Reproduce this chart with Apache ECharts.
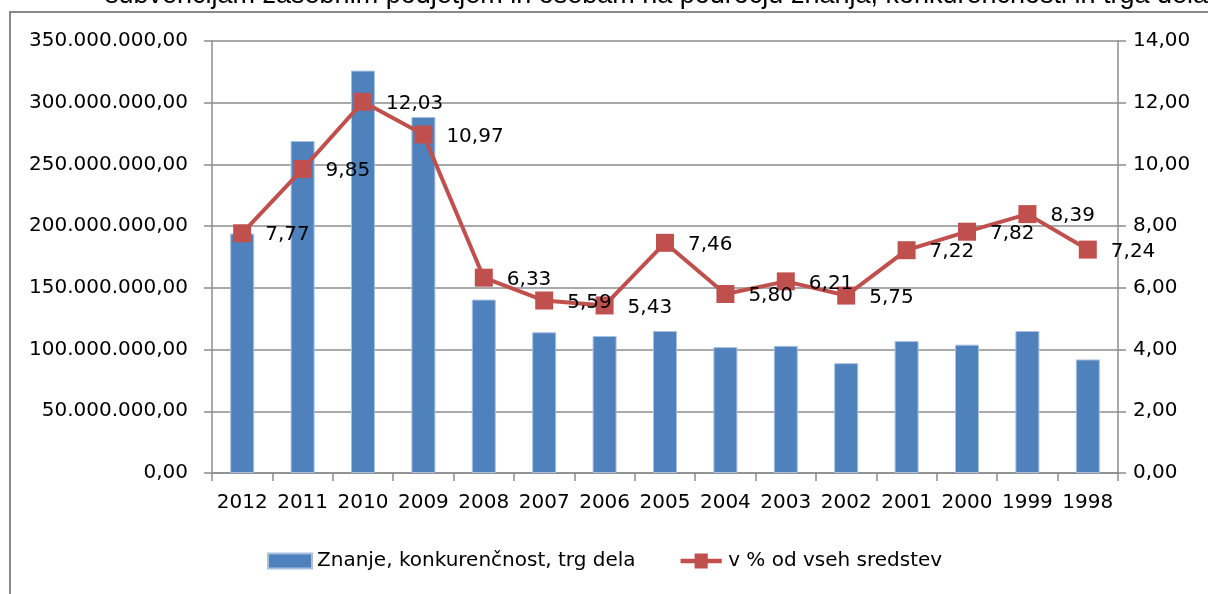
<!DOCTYPE html>
<html>
<head>
<meta charset="utf-8">
<script src="https://cdn.jsdelivr.net/npm/echarts@6/dist/echarts.min.js"></script>
<style>
  html, body { margin: 0; padding: 0; background: #fff; }
  #chart { width: 1208px; height: 594px; }
</style>
</head>
<body>
<div id="chart"></div>
<script>
// podatki
const years = ['2012', '2011', '2010', '2009', '2008', '2007', '2006', '2005', '2004', '2003', '2002', '2001', '2000', '1999', '1998'];
const amounts = [194000000, 269000000, 326000000, 288500000, 140500000, 114000000, 111000000, 115000000, 102000000, 103000000, 89000000, 107000000, 104000000, 115000000, 92000000];
const shares = [7.77, 9.85, 12.03, 10.97, 6.33, 5.59, 5.43, 7.46, 5.80, 6.21, 5.75, 7.22, 7.82, 8.39, 7.24];
const barName = 'Znanje, konkurenčnost, trg dela';
const lineName = 'v % od vseh sredstev';
const titleText = 'subvencijam zasebnim podjetjem in osebam na področju znanja, konkurenčnosti in trga dela';

const font = 'DejaVu Sans';
const gridColor = '#8c8c8c';

// 350000000 -> 350.000.000,00
function fmtSl(v, dec) {
  const parts = v.toFixed(dec).split('.');
  parts[0] = parts[0].replace(/\B(?=(\d{3})+(?!\d))/g, '.');
  return parts.join(',');
}

const chart = echarts.init(document.getElementById('chart'));

const option = {
  animation: false,
  backgroundColor: '#fff',
  graphic: [
    {
      type: 'text',
      left: 105,
      top: -18,
      style: { text: titleText, font: '27px "Liberation Sans"', fill: '#000' }
    },
    {
      type: 'rect',
      shape: { x: 10, y: 12, width: 1400, height: 800 },
      style: { fill: 'none', stroke: '#898989', lineWidth: 2 },
      z: 10
    }
  ],
  grid: { left: 212, right: 90, top: 41, bottom: 121 },
  legend: {
    bottom: 18,
    left: 262,
    itemWidth: 44,
    itemHeight: 15,
    itemGap: 45,
    textStyle: { fontFamily: font, fontSize: 20, color: '#000' },
    data: [
      { name: barName, icon: 'rect' },
      {
        name: lineName,
        // debela črta s kvadratkom kot v izvirniku
        icon: 'path://M0,5.5L15,5.5L15,0L29,0L29,5.5L44,5.5L44,10.5L29,10.5L29,16L15,16L15,10.5L0,10.5Z',
        itemStyle: { color: '#c0504d' }
      }
    ]
  },
  xAxis: {
    type: 'category',
    data: years,
    axisLine: { lineStyle: { color: gridColor, width: 1.5 } },
    axisTick: { show: true, length: 8, lineStyle: { color: gridColor, width: 1.5 } },
    axisLabel: { color: '#000', fontFamily: font, fontSize: 20, margin: 20, interval: 0 }
  },
  yAxis: [
    {
      type: 'value',
      min: 0,
      max: 350000000,
      interval: 50000000,
      axisLine: { show: true, lineStyle: { color: gridColor, width: 1.5 } },
      axisTick: { show: true, length: 8, lineStyle: { color: gridColor, width: 1.5 } },
      splitLine: { lineStyle: { color: gridColor, width: 1.5 } },
      axisLabel: { color: '#000', fontFamily: font, fontSize: 20, margin: 24, formatter: v => fmtSl(v, 2) }
    },
    {
      type: 'value',
      min: 0,
      max: 14,
      interval: 2,
      axisLine: { show: true, lineStyle: { color: gridColor, width: 1.5 } },
      axisTick: { show: true, length: 8, lineStyle: { color: gridColor, width: 1.5 } },
      splitLine: { show: false },
      axisLabel: { color: '#000', fontFamily: font, fontSize: 20, margin: 15, formatter: v => fmtSl(v, 2) }
    }
  ],
  series: [
    {
      name: barName,
      type: 'bar',
      data: amounts,
      barWidth: 24,
      itemStyle: { color: '#4f81bd', borderColor: '#a9c1e0', borderWidth: 1 }
    },
    {
      name: lineName,
      type: 'line',
      yAxisIndex: 1,
      data: shares,
      symbol: 'rect',
      symbolSize: 18,
      lineStyle: { color: '#c0504d', width: 4 },
      itemStyle: { color: '#c0504d' },
      label: {
        show: true,
        position: 'right',
        distance: 14,
        offset: [0, 2],
        color: '#000',
        fontFamily: font,
        fontSize: 20,
        formatter: p => fmtSl(p.value, 2)
      },
      z: 5
    }
  ]
};

chart.setOption(option);
</script>
</body>
</html>
